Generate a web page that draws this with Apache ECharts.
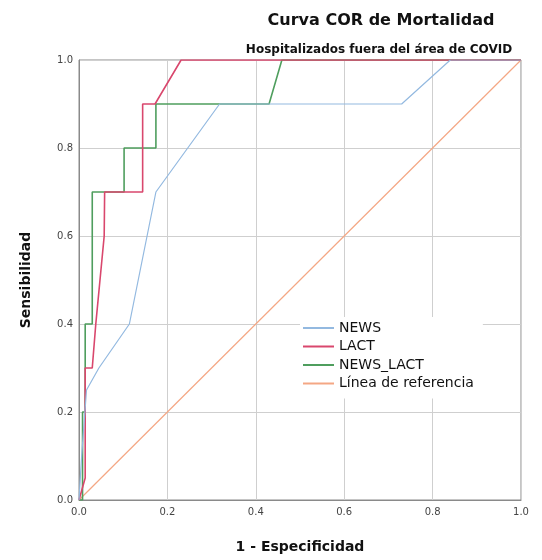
<!DOCTYPE html>
<html>
<head>
<meta charset="utf-8">
<script src="https://cdn.jsdelivr.net/npm/echarts@6/dist/echarts.min.js"></script>
<style>
  html, body { margin: 0; padding: 0; background: #fff; }
  #chart { width: 542px; height: 560px; }
</style>
</head>
<body>
<div id="chart"></div>
<script>
// ROC points (1 - especificidad, sensibilidad)
var newsFpr = [0, 0.006, 0.017, 0.045, 0.114, 0.174, 0.318, 0.73, 0.84, 1];
var newsTpr = [0, 0.1, 0.25, 0.3, 0.4, 0.7, 0.9, 0.9, 1, 1];
var lactFpr = [0, 0.014, 0.014, 0.03, 0.038, 0.057, 0.058, 0.144, 0.144, 0.172, 0.231, 1];
var lactTpr = [0, 0.05, 0.3, 0.3, 0.4, 0.6, 0.7, 0.7, 0.9, 0.9, 1, 1];
var comboFpr = [0, 0.008, 0.008, 0.014, 0.014, 0.03, 0.03, 0.102, 0.102, 0.174, 0.174, 0.43, 0.459, 1];
var comboTpr = [0, 0, 0.2, 0.2, 0.4, 0.4, 0.7, 0.7, 0.8, 0.8, 0.9, 0.9, 1, 1];
var refFpr = [0, 1];
var refTpr = [0, 1];
var seriesNames = ['NEWS', 'LACT', 'NEWS_LACT', 'Línea de referencia'];
var seriesColors = ['#93b9e0', '#d9476d', '#4f9e5e', '#f4a784'];

function pairs(xs, ys) {
  return xs.map(function (x, i) { return [x, ys[i]]; });
}

var chart = echarts.init(document.getElementById('chart'));
var font = 'DejaVu Sans';

var axisCommon = {
  type: 'value',
  min: 0,
  max: 1,
  interval: 0.2,
  axisLine: { show: true, lineStyle: { color: '#8a8a8a', width: 1 } },
  axisTick: { show: false },
  splitLine: { show: true, lineStyle: { color: '#cfcfcf', width: 1 } },
  axisLabel: {
    color: '#444',
    fontFamily: font,
    fontSize: 10,
    formatter: function (v) { return v.toFixed(1); }
  },
  nameLocation: 'middle',
  nameTextStyle: { color: '#111', fontFamily: font, fontSize: 14, fontWeight: 'bold' }
};

var lineData = [
  pairs(newsFpr, newsTpr),
  pairs(lactFpr, lactTpr),
  pairs(comboFpr, comboTpr),
  pairs(refFpr, refTpr)
];
var widths = [1.2, 1.6, 1.6, 1.2];
var series = seriesNames.map(function (name, i) {
  return {
    name: name,
    type: 'line',
    data: lineData[i],
    showSymbol: false,
    symbol: 'none',
    animation: false,
    color: seriesColors[i],
    lineStyle: { color: seriesColors[i], width: widths[i] },
    z: i === 3 ? 1 : 5 - i
  };
});

chart.setOption({
  backgroundColor: '#fff',
  title: [
    {
      text: 'Curva COR de Mortalidad',
      left: 376,
      top: 8,
      textAlign: 'center',
      textStyle: { fontFamily: font, fontSize: 16, fontWeight: 'bold', color: '#111' }
    },
    {
      text: 'Hospitalizados fuera del área de COVID',
      left: 374,
      top: 39,
      textAlign: 'center',
      textStyle: { fontFamily: font, fontSize: 12, fontWeight: 'bold', color: '#111' }
    }
  ],
  grid: { left: 79, right: 21, top: 60, bottom: 60, show: true, borderColor: '#8a8a8a', borderWidth: 1 },
  xAxis: Object.assign({}, axisCommon, {
    name: '1 - Especificidad',
    nameGap: 40,
    axisLabel: Object.assign({}, axisCommon.axisLabel, { margin: 7 })
  }),
  yAxis: Object.assign({}, axisCommon, {
    name: 'Sensibilidad',
    nameGap: 46,
    axisLabel: Object.assign({}, axisCommon.axisLabel, { margin: 6 })
  }),
  legend: {
    orient: 'vertical',
    left: 300,
    top: 317,
    backgroundColor: '#fff',
    padding: [4, 9, 8, 3],
    itemGap: 4.5,
    itemWidth: 31,
    itemHeight: 2,
    icon: 'rect',
    textStyle: { fontFamily: font, fontSize: 14, lineHeight: 14, color: '#111' },
    data: seriesNames
  },
  series: series
});
</script>
</body>
</html>
